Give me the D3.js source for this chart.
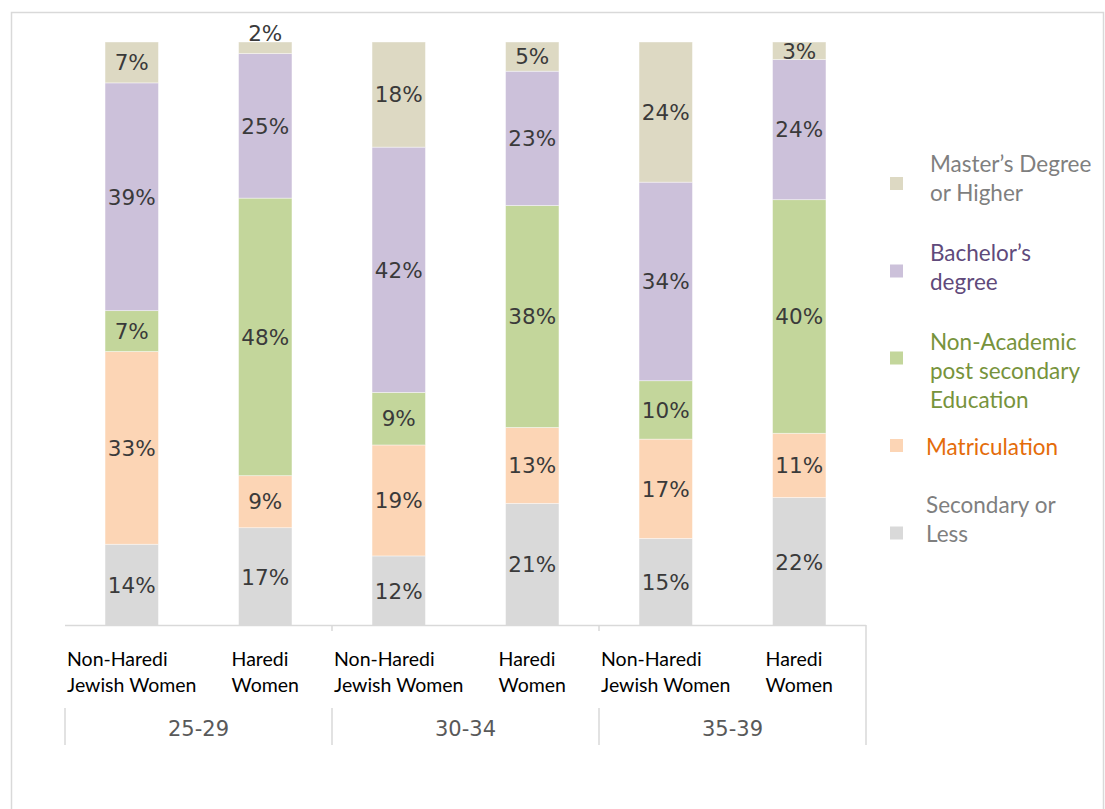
<!DOCTYPE html>
<html>
<head>
<meta charset="utf-8">
<script src="https://cdn.jsdelivr.net/npm/d3@7"></script>
<style>
  html, body { margin: 0; padding: 0; background: #fff; }
  svg { display: block; }
</style>
</head>
<body>
<svg id="chart" width="1105" height="809"></svg>
<script>
// ---------------- DATA ----------------
const categories = [
  ["Non-Haredi", "Jewish Women"],
  ["Haredi", "Women"],
  ["Non-Haredi", "Jewish Women"],
  ["Haredi", "Women"],
  ["Non-Haredi", "Jewish Women"],
  ["Haredi", "Women"]
];
const groups = ["25-29", "30-34", "35-39"];
const seriesKeys = ["secondary", "matriculation", "nonAcademic", "bachelor", "master"];
const secondary     = [14, 17, 12, 21, 15, 22];
const matriculation = [33,  9, 19, 13, 17, 11];
const nonAcademic   = [ 7, 48,  9, 38, 10, 40];
const bachelor      = [39, 25, 42, 23, 34, 24];
const master        = [ 7,  2, 18,  5, 24,  3];
const legendLabels = [
  ["Master\u2019s Degree", "or Higher"],
  ["Bachelor\u2019s", "degree"],
  ["Non-Academic", "post secondary", "Education"],
  ["Matriculation"],
  ["Secondary or", "Less"]
];
const legendKeys = ["master", "bachelor", "nonAcademic", "matriculation", "secondary"];

// ---------------- STYLE ----------------
const fillColors = {
  master: "#ddd9c3",
  bachelor: "#ccc1da",
  nonAcademic: "#c3d69b",
  matriculation: "#fcd5b5",
  secondary: "#d9d9d9"
};
const legendTextColors = {
  master: "#7f7f7f",
  bachelor: "#604a7b",
  nonAcademic: "#77933c",
  matriculation: "#e46c0a",
  secondary: "#7f7f7f"
};

const svg = d3.select("#chart");

// outer frame
svg.append("rect")
  .attr("x", 11.5).attr("y", 12.5)
  .attr("width", 1092).attr("height", 830)
  .attr("fill", "none").attr("stroke", "#d9d9d9").attr("stroke-width", 1.5);

// table
const rows = categories.map((c, i) => {
  const r = { idx: i };
  r.secondary = secondary[i];
  r.matriculation = matriculation[i];
  r.nonAcademic = nonAcademic[i];
  r.bachelor = bachelor[i];
  r.master = master[i];
  return r;
});

const x = d3.scaleBand()
  .domain(rows.map(r => r.idx))
  .range([65, 866])
  .paddingInner(0.6)
  .paddingOuter(0.3);

const y = d3.scaleLinear().domain([0, 1]).range([626, 42]);

const stack = d3.stack().keys(seriesKeys).offset(d3.stackOffsetExpand);
const stacked = stack(rows);

const gBars = svg.append("g");
const layers = gBars.selectAll("g.layer")
  .data(stacked).join("g")
  .attr("class", "layer")
  .attr("fill", d => fillColors[d.key]);

layers.selectAll("rect")
  .data(d => d).join("rect")
  .attr("x", d => x(d.data.idx))
  .attr("width", x.bandwidth())
  .attr("y", d => y(d[1]))
  .attr("height", d => y(d[0]) - y(d[1]))
  .attr("stroke", "#ffffff")
  .attr("stroke-opacity", 0.5)
  .attr("stroke-width", 0.8);

// value labels
const labelFont = 21.5;
stacked.forEach(layer => {
  layer.forEach(d => {
    const top = y(d[1]), bot = y(d[0]);
    const h = bot - top;
    const cx = x(d.data.idx) + x.bandwidth() / 2;
    const val = d.data[layer.key];
    let ty = (top + bot) / 2 + labelFont * 0.36;
    if (h < 14) ty = top - 1;
    gBars.append("text")
      .attr("x", cx).attr("y", ty)
      .attr("text-anchor", "middle")
      .attr("font-family", "DejaVu Sans, sans-serif")
      .attr("font-size", labelFont)
      .attr("fill", "#3a3a3a")
      .text(val + "%");
  });
});

// axis
const axisColor = "#d9d9d9";
const gAxis = svg.append("g");
gAxis.append("line")
  .attr("x1", 65).attr("x2", 866)
  .attr("y1", 625.5).attr("y2", 625.5)
  .attr("stroke", axisColor).attr("stroke-width", 1.5);

const step = x.step();
const groupBounds = groups.map((g, i) => [x.range()[0] + i * 2 * step, x.range()[0] + (i + 1) * 2 * step]);

// small ticks between groups on axis line
groupBounds.slice(1).forEach(b => {
  gAxis.append("line")
    .attr("x1", b[0]).attr("x2", b[0])
    .attr("y1", 625).attr("y2", 631)
    .attr("stroke", axisColor).attr("stroke-width", 1.5);
});
// group separator lines
const sepXs = [groupBounds[0][0]].concat(groupBounds.map(b => b[1]));
sepXs.forEach((sx, i) => {
  const last = i === sepXs.length - 1;
  gAxis.append("line")
    .attr("x1", sx).attr("x2", sx)
    .attr("y1", last ? 625 : 708).attr("y2", 745)
    .attr("stroke", axisColor).attr("stroke-width", 1.5);
});

// category labels
const catFont = 19.5;
categories.forEach((lines, i) => {
  const cx = x(i) + x.bandwidth() / 2;
  const t = gAxis.append("text")
    .attr("font-family", "Lato, sans-serif")
    .attr("font-size", catFont)
    .attr("fill", "#000");
  lines.forEach((ln, j) => {
    t.append("tspan").attr("x", 0).attr("y", 666 + j * 26).text(ln);
  });
  const w = t.node().getBBox().width;
  t.attr("transform", `translate(${cx - w / 2},0)`);
});

// group labels
groups.forEach((g, i) => {
  const b = groupBounds[i];
  gAxis.append("text")
    .attr("x", (b[0] + b[1]) / 2).attr("y", 736)
    .attr("text-anchor", "middle")
    .attr("font-family", "DejaVu Sans, sans-serif")
    .attr("font-size", 21)
    .attr("fill", "#595959")
    .text(g);
});

// legend
const legendSquareY = [183.5, 271, 358, 445.5, 533];
const legendTextY = [172, 261, 350, 455, 513];
const gLeg = svg.append("g");
legendKeys.forEach((k, i) => {
  gLeg.append("rect")
    .attr("x", 890).attr("y", legendSquareY[i] - 6.5)
    .attr("width", 13).attr("height", 13)
    .attr("fill", fillColors[k]);
  const t = gLeg.append("text")
    .attr("font-family", "Lato, sans-serif")
    .attr("font-size", 22.5)
    .attr("fill", legendTextColors[k]);
  legendLabels[i].forEach((ln, j) => {
    t.append("tspan").attr("x", k === "matriculation" || k === "secondary" ? 926 : 930)
      .attr("y", legendTextY[i] + j * 29).text(ln);
  });
});
</script>
</body>
</html>
